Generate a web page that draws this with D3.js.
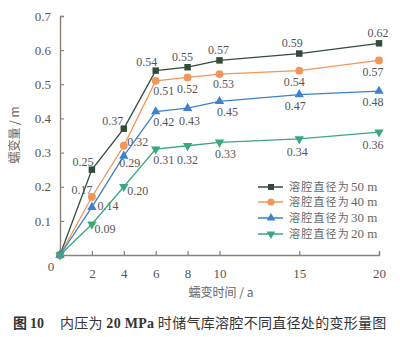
<!DOCTYPE html>
<html><head><meta charset="utf-8">
<script src="https://cdn.jsdelivr.net/npm/d3@7"></script>
<style>
body{margin:0;background:#fff;}
svg{display:block;}
</style></head>
<body><svg id="c" width="400" height="337"></svg>
<script>
const years = [0, 2, 4, 6, 8, 10, 15, 20];
const xTicks = [2, 4, 6, 8, 10, 15, 20];
const yTicks = [0.1, 0.2, 0.3, 0.4, 0.5, 0.6, 0.7];
const seriesNames = ["溶腔直径为 50 m", "溶腔直径为 40 m", "溶腔直径为 30 m", "溶腔直径为 20 m"];
const d50 = [0, 0.25, 0.37, 0.54, 0.55, 0.57, 0.59, 0.62];
const d40 = [0, 0.17, 0.32, 0.51, 0.52, 0.53, 0.54, 0.57];
const d30 = [0, 0.14, 0.29, 0.42, 0.43, 0.45, 0.47, 0.48];
const d20 = [0, 0.09, 0.20, 0.31, 0.32, 0.33, 0.34, 0.36];
const seriesValues = [d50, d40, d30, d20];

// styles
const colors = ["#344c3c", "#f19559", "#3d80cf", "#3aa77c"];
const symbols = [d3.symbolSquare, d3.symbolCircle, d3.symbolTriangle, "down"];
// label offsets (dx, dy) per series per point index
const labelOff = [
  [null, [-9,-8], [-11,-8], [-9,-9], [-5,-10], [-1,-11], [-7,-11], [-1,-11]],
  [null, [-10,-7], [14,-4], [8,10], [0,11], [4,10], [-5,11], [-6,11]],
  [null, [16,-1], [6,7], [8,10], [2,13], [8,10], [-4,11], [-6,11]],
  [null, [13,5], [14,4], [8,11], [0,14], [6,11], [-2,13], [-6,13]]
];

const svg = d3.select("#c");
const x = d3.scaleLinear().domain([0, 20]).range([60, 379]);
const y = d3.scaleLinear().domain([0, 0.7]).range([255, 16]);
const axisColor = "#8b8175";
const numFont = "'Liberation Serif', 'Times New Roman', serif";
const cjkFont = "'Noto Sans CJK SC', sans-serif";

// axes
const xa = svg.append("g").attr("transform", "translate(0,255)")
  .call(d3.axisBottom(x).tickValues(xTicks).tickSize(-4).tickPadding(14).tickFormat(d3.format("d")));
const ya = svg.append("g").attr("transform", "translate(60,0)")
  .call(d3.axisLeft(y).tickValues(yTicks).tickSize(-4).tickPadding(9).tickFormat(d3.format(".1f")));
[xa, ya].forEach(a => {
  a.select(".domain").attr("stroke", axisColor).attr("stroke-width", 1.4);
  a.selectAll(".tick line").attr("stroke", axisColor).attr("stroke-width", 1.2);
  a.selectAll(".tick text").attr("fill", "#555").style("font-family", numFont).style("font-size", "13px");
});
svg.append("text").attr("x", 51).attr("y", 271).attr("text-anchor", "middle")
  .attr("fill", "#555").style("font-family", numFont).style("font-size", "13px").text("0");

// axis titles
svg.append("text").attr("transform", "translate(19,135) rotate(-90)").attr("text-anchor", "middle")
  .attr("fill", "#666").style("font-family", cjkFont).style("font-size", "12px").text("蠕变量 / m");
svg.append("text").attr("x", 221).attr("y", 297).attr("text-anchor", "middle")
  .attr("fill", "#666").style("font-family", cjkFont).style("font-size", "12px").text("蠕变时间 / a");

function sym(i, size) {
  if (symbols[i] === "down") return d3.symbol().type(d3.symbolTriangle).size(size)();
  return d3.symbol().type(symbols[i]).size(size)();
}
const sizes = [42, 48, 38, 38];

const line = d3.line().x((d, i) => x(years[i])).y(d => y(d));
seriesValues.forEach((vals, si) => {
  const g = svg.append("g");
  g.append("path").attr("d", line(vals)).attr("fill", "none").attr("stroke", colors[si]).attr("stroke-width", 1.3);
  vals.forEach((v, i) => {
    g.append("path").attr("d", sym(si, sizes[si]))
      .attr("transform", `translate(${x(years[i])},${y(v)})` + (symbols[si] === "down" ? " rotate(180)" : ""))
      .attr("fill", colors[si]);
    const off = labelOff[si][i];
    if (off) {
      g.append("text").attr("x", x(years[i]) + off[0]).attr("y", y(v) + off[1]).attr("dy", "0.35em")
        .attr("text-anchor", "middle").attr("fill", "#555")
        .style("font-family", numFont).style("font-size", "12px").text(v.toFixed(2));
    }
  });
});

// legend
const legY = [187, 202, 218, 234];
seriesNames.forEach((name, si) => {
  const g = svg.append("g").attr("transform", `translate(0,${legY[si]})`);
  g.append("line").attr("x1", 258).attr("x2", 283).attr("stroke", colors[si]).attr("stroke-width", 1.5);
  g.append("path").attr("d", sym(si, sizes[si] * 0.85))
    .attr("transform", "translate(271,0)" + (symbols[si] === "down" ? " rotate(180)" : ""))
    .attr("fill", colors[si]);
  const parts = name.split(" ");
  g.append("text").attr("x", 289).attr("dy", "0.36em").attr("fill", "#666")
    .style("font-family", cjkFont).style("font-size", "11px").style("letter-spacing", "1.2px").text(parts[0]);
  g.append("text").attr("x", 351).attr("dy", "0.33em").attr("fill", "#666")
    .style("font-family", numFont).style("font-size", "13px").text(parts.slice(1).join(" "));
});

// caption
const capFont = "14px";
svg.append("text").attr("x", 13).attr("y", 328).attr("fill", "#333")
  .style("font-family", cjkFont).style("font-weight", "bold").style("font-size", capFont).text("图");
svg.append("text").attr("x", 30).attr("y", 328).attr("fill", "#333")
  .style("font-family", numFont).style("font-weight", "bold").style("font-size", capFont).text("10");
const cap = svg.append("text").attr("x", 60).attr("y", 328).attr("fill", "#333")
  .style("font-size", capFont).style("letter-spacing", "0.3px");
cap.append("tspan").style("font-family", cjkFont).text("内压为 ");
cap.append("tspan").style("font-family", numFont).style("font-weight", "bold").text("20 MPa");
cap.append("tspan").style("font-family", cjkFont).text(" 时储气库溶腔不同直径处的变形量图");
</script></body></html>
